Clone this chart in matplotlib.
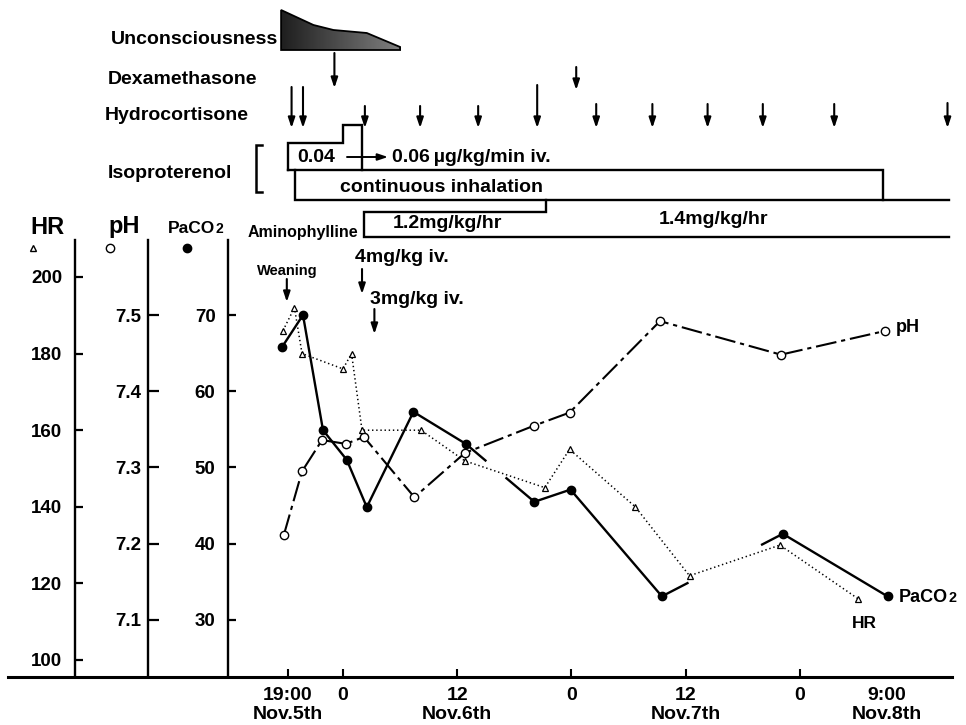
import numpy as np
import matplotlib
matplotlib.use("Agg")
import matplotlib.pyplot as plt
from matplotlib.patches import Polygon
from matplotlib.lines import Line2D
from matplotlib.offsetbox import TextArea, HPacker, AnnotationBbox

plt.rcParams['font.family'] = ['Liberation Sans', 'DejaVu Sans']
plt.rcParams['font.weight'] = 'bold'
plt.rcParams['lines.scale_dashes'] = False

W, H = 966, 725

# ---------------- data (x = hours counted from Nov.5th 0:00) ----------------
paco2_t = [17.6, 19.8, 21.9, 24.4, 26.5, 31.4, 36.9, 44.1, 47.9, 57.5, 70.2, 81.2]
paco2_v = [65.8, 70.0, 54.9, 51.0, 44.8, 57.3, 53.1, 45.5, 47.1, 33.1, 41.3, 33.1]

ph_t = [17.8, 19.7, 21.8, 24.3, 26.2, 31.5, 36.8, 44.1, 47.8, 57.3, 70.0, 80.9]
ph_v = [7.212, 7.295, 7.336, 7.331, 7.340, 7.261, 7.319, 7.355, 7.372, 7.492, 7.448, 7.479]

hr_t = [17.7, 18.9, 19.7, 24.0, 24.9, 26.0, 32.2, 36.8, 45.2, 47.8, 54.7, 60.4, 69.9, 78.1]
hr_v = [186, 192, 180, 176, 180, 160, 160, 152, 145, 155, 140, 122, 130, 116]

tick_hours = [18.2, 24, 36, 48, 60, 72, 81.1]
tick_labels = ['19:00\nNov.5th', '0', '12\nNov.6th', '0', '12\nNov.7th', '0', '9:00\nNov.8th']

hr_ticks = [100, 120, 140, 160, 180, 200]
ph_ticks = [7.1, 7.2, 7.3, 7.4, 7.5]
paco2_ticks = [30, 40, 50, 60, 70]

# treatments (hours)
hydrocortisone_t = [18.6, 19.8, 26.3, 32.1, 38.2, 44.4, 50.6, 56.5, 62.3, 68.1, 75.6, 87.5]
dexamethasone_t = [23.1, 48.5]
weaning_t = 18.1
amino_bolus_t = [26.0, 27.3]          # 4 mg/kg iv., 3 mg/kg iv.
amino_bolus_labels = ['4mg/kg iv.', '3mg/kg iv.']
iso_iv_start, iso_iv_step, iso_iv_end, iso_end = 18.2, 24.0, 26.0, 80.7
inhal_start, chart_end = 19.0, 87.7
amino_start, amino_change = 26.2, 45.3
uncon_t = [17.5, 20.9, 23.0, 26.5, 30.0]

# ---------------- layout helpers ----------------
x_left_px, x_right_px = 8, 952
def hx(px):  # pixel column -> hours (chart time scale)
    return (px - 114.5) / 9.52
XLIM = (hx(x_left_px), hx(x_right_px))

def fx(px):
    return px / W
def fy(py):
    return 1 - py / H

fig = plt.figure(figsize=(W / 100, H / 100), dpi=100)
fig.patch.set_facecolor('white')

ax_top_px, ax_bot_px = 240, 677
rect = [fx(x_left_px), (H - ax_bot_px) / H, (x_right_px - x_left_px) / W, (ax_bot_px - ax_top_px) / H]

ax_p = fig.add_axes(rect)
ax_ph = fig.add_axes(rect, sharex=ax_p)
ax_hr = fig.add_axes(rect, sharex=ax_p)

ax_p.set_ylim(22.52, 79.84)
ax_ph.set_ylim(7.0252, 7.5984)
ax_hr.set_ylim(95.56, 209.66)

spine_pos = {ax_hr: hx(75), ax_ph: hx(148), ax_p: hx(228)}
for ax in (ax_p, ax_ph, ax_hr):
    ax.spines['top'].set_visible(False)
    ax.spines['right'].set_visible(False)
    ax.spines['left'].set_position(('data', spine_pos[ax]))
    ax.spines['left'].set_linewidth(1.7)
    ax.patch.set_visible(False)
for ax in (ax_ph, ax_hr):
    ax.spines['bottom'].set_visible(False)
    ax.xaxis.set_visible(False)
ax_p.spines['bottom'].set_linewidth(2.2)

ax_hr.set_yticks(hr_ticks)
ax_hr.set_yticklabels([str(v) for v in hr_ticks])
ax_ph.set_yticks(ph_ticks)
ax_ph.set_yticklabels([f'{v:.1f}' for v in ph_ticks])
ax_p.set_yticks(paco2_ticks)
ax_p.set_yticklabels([str(v) for v in paco2_ticks])
ax_hr.tick_params(axis='y', direction='in', length=6, width=1.6, pad=9, labelsize=13.5)
ax_ph.tick_params(axis='y', direction='in', length=8, width=1.6, pad=5, labelsize=13.5)
ax_p.tick_params(axis='y', direction='in', length=6, width=1.6, pad=9, labelsize=13.5)

ax_p.set_xticks(tick_hours)
ax_p.set_xticklabels(tick_labels)
ax_p.tick_params(axis='x', direction='in', length=6, width=1.5, pad=7, labelsize=14)
for lbl in ax_p.get_xticklabels():
    lbl.set_linespacing(1.15)
ax_p.xaxis.get_major_ticks()[-1].tick1line.set_visible(False)

# ---------------- series ----------------
# HR: dotted line + open triangles
ax_hr.plot(hr_t, hr_v, ls=(0, (1.0, 2.0)), color='k', lw=1.1, zorder=2)
ax_hr.plot(hr_t, hr_v, ls='none', marker='^', ms=5, mfc='white', mec='k', mew=0.9, zorder=4)

# pH: dash-dot line + open circles
ax_ph.plot(ph_t, ph_v, ls=(0, (15, 3.5, 3, 3.5)), color='k', lw=1.5, zorder=2)
ax_ph.plot(ph_t, ph_v, ls='none', marker='o', ms=6, mfc='white', mec='k', mew=1.0, zorder=4)

# PaCO2: solid line (with the breaks seen in the original) + filled circles
paco2_gaps = {6: (0.30, 0.58), 9: (0.22, 0.82)}
for i in range(len(paco2_t) - 1):
    x0, x1 = paco2_t[i], paco2_t[i + 1]
    y0, y1 = paco2_v[i], paco2_v[i + 1]
    pieces = [(0, 1)]
    if i in paco2_gaps:
        g0, g1 = paco2_gaps[i]
        pieces = [(0, g0), (g1, 1)]
    for a, b in pieces:
        ax_p.plot([x0 + a * (x1 - x0), x0 + b * (x1 - x0)],
                  [y0 + a * (y1 - y0), y0 + b * (y1 - y0)],
                  color='k', lw=1.7, solid_capstyle='butt', zorder=3)
ax_p.plot(paco2_t, paco2_v, ls='none', marker='o', ms=6, mfc='k', mec='k', zorder=5)

# ---------------- annotation layer (x = hours, y = pixel rows) ----------------
ax_a = fig.add_axes([rect[0], 0, rect[2], 1], sharex=ax_p)
ax_a.set_autoscale_on(False)
ax_a.axis('off')
ax_a.patch.set_visible(False)

def arrow(t, y0, y1, lw=1.5):
    ax_a.annotate('', xy=(t, y1), xytext=(t, y0), annotation_clip=False,
                  arrowprops=dict(arrowstyle='-|>,head_length=0.6,head_width=0.2',
                                  lw=lw, color='k', shrinkA=0, shrinkB=0))

def seg(xs, ys, lw=1.7):
    ax_a.add_line(Line2D(xs, ys, color='k', lw=lw, clip_on=False,
                         solid_joinstyle='miter', solid_capstyle='projecting'))

# Unconsciousness wedge (gradient)
uncon_top = [10, 25, 30, 33, 47]
uncon_bottom = 50
verts = list(zip(uncon_t, uncon_top)) + [(uncon_t[-1], uncon_bottom), (uncon_t[0], uncon_bottom)]
poly = Polygon(verts, closed=True, facecolor='none', edgecolor='k', lw=1.3, clip_on=False, zorder=3)
ax_a.add_patch(poly)
grad = np.tile(np.linspace(0.12, 0.5, 200), (20, 1))
im = ax_a.imshow(grad, cmap='gray', vmin=0, vmax=1, aspect='auto',
                 extent=[uncon_t[0], uncon_t[-1], uncon_bottom, 8], zorder=2)
im.set_clip_path(poly)

# Dexamethasone arrows
for t, (y0, y1) in zip(dexamethasone_t, [(53, 88), (67, 90)]):
    arrow(t, y0, y1)

# Hydrocortisone arrows
hc_tops = [87, 87, 106, 106, 106, 85, 104, 104, 104, 104, 104, 103]
for t, y0 in zip(hydrocortisone_t, hc_tops):
    arrow(t, y0, 128)

# Isoproterenol iv box with step
seg([iso_iv_start, iso_iv_start, iso_iv_step, iso_iv_step, iso_iv_end, iso_iv_end],
    [170, 143, 143, 125, 125, 170])
seg([iso_iv_start, iso_end, iso_end], [170, 170, 200])
# continuous inhalation
seg([inhal_start, inhal_start, chart_end], [170, 200, 200])
# bracket
seg([hx(262), hx(256), hx(256), hx(262)], [145, 145, 192, 192], lw=1.8)
# arrow 0.04 -> 0.06
ax_a.annotate('', xy=(hx(388), 157), xytext=(hx(347), 157), annotation_clip=False,
              arrowprops=dict(arrowstyle='-|>,head_length=0.6,head_width=0.2',
                              lw=1.4, color='k', shrinkA=0, shrinkB=0))
# Aminophylline
seg([amino_change, amino_change, amino_start, amino_start, chart_end], [200, 212, 212, 237, 237])

# Weaning / bolus arrows
arrow(weaning_t, 279, 302)
arrow(amino_bolus_t[0], 269, 294)
arrow(amino_bolus_t[1], 309, 334)

ax_a.set_ylim(H, 0)

# ---------------- texts ----------------
def T(px, py, s, size=14, ha='left', va='center', **kw):
    fig.text(fx(px), fy(py), s, size=size, ha=ha, va=va, weight='bold', **kw)

T(278, 40, 'Unconsciousness', ha='right')
T(108, 80, 'Dexamethasone')
T(105, 115, 'Hydrocortisone')
T(108, 174, 'Isoproterenol')
T(358, 232, 'Aminophylline', size=11.5, ha='right')
T(316, 157, '0.04', ha='center')
T(392, 157, '0.06\u2009µg/kg/min iv.')
T(442, 188, 'continuous inhalation', ha='center')
T(447, 223, '1.2mg/kg/hr', ha='center')
T(713, 220, '1.4mg/kg/hr', ha='center')
T(287, 271, 'Weaning', size=10.5, ha='center')
T(355, 257, amino_bolus_labels[0])
T(370, 300, amino_bolus_labels[1])

T(47, 227, 'HR', size=17, ha='center')
T(124, 226, 'pH', size=17, ha='center')
T(896, 327, 'pH', size=13)
T(864, 623, 'HR', size=12.5, ha='center')

def paco2_label(px, py, size):
    box = HPacker(children=[TextArea('PaCO', textprops=dict(size=size, weight='bold')),
                            TextArea('2', textprops=dict(size=size * 0.8, weight='bold'))],
                  align='baseline', pad=0, sep=0)
    ab = AnnotationBbox(box, (fx(px), fy(py)), xycoords='figure fraction',
                        box_alignment=(0, 0.5), frameon=False, pad=0)
    fig.add_artist(ab)

paco2_label(168, 229, 12.5)
paco2_label(899, 597, 13)

# marker key under the axis titles
for px, mk, fc, ms in [(33, '^', 'white', 5), (110, 'o', 'white', 6), (187, 'o', 'k', 6)]:
    fig.add_artist(Line2D([fx(px)], [fy(248)], transform=fig.transFigure, marker=mk,
                          ms=ms, mfc=fc, mec='k', mew=1.0, ls='none'))

ax_p.set_xlim(*XLIM)
fig.savefig('out.png', dpi=100, facecolor='white')
